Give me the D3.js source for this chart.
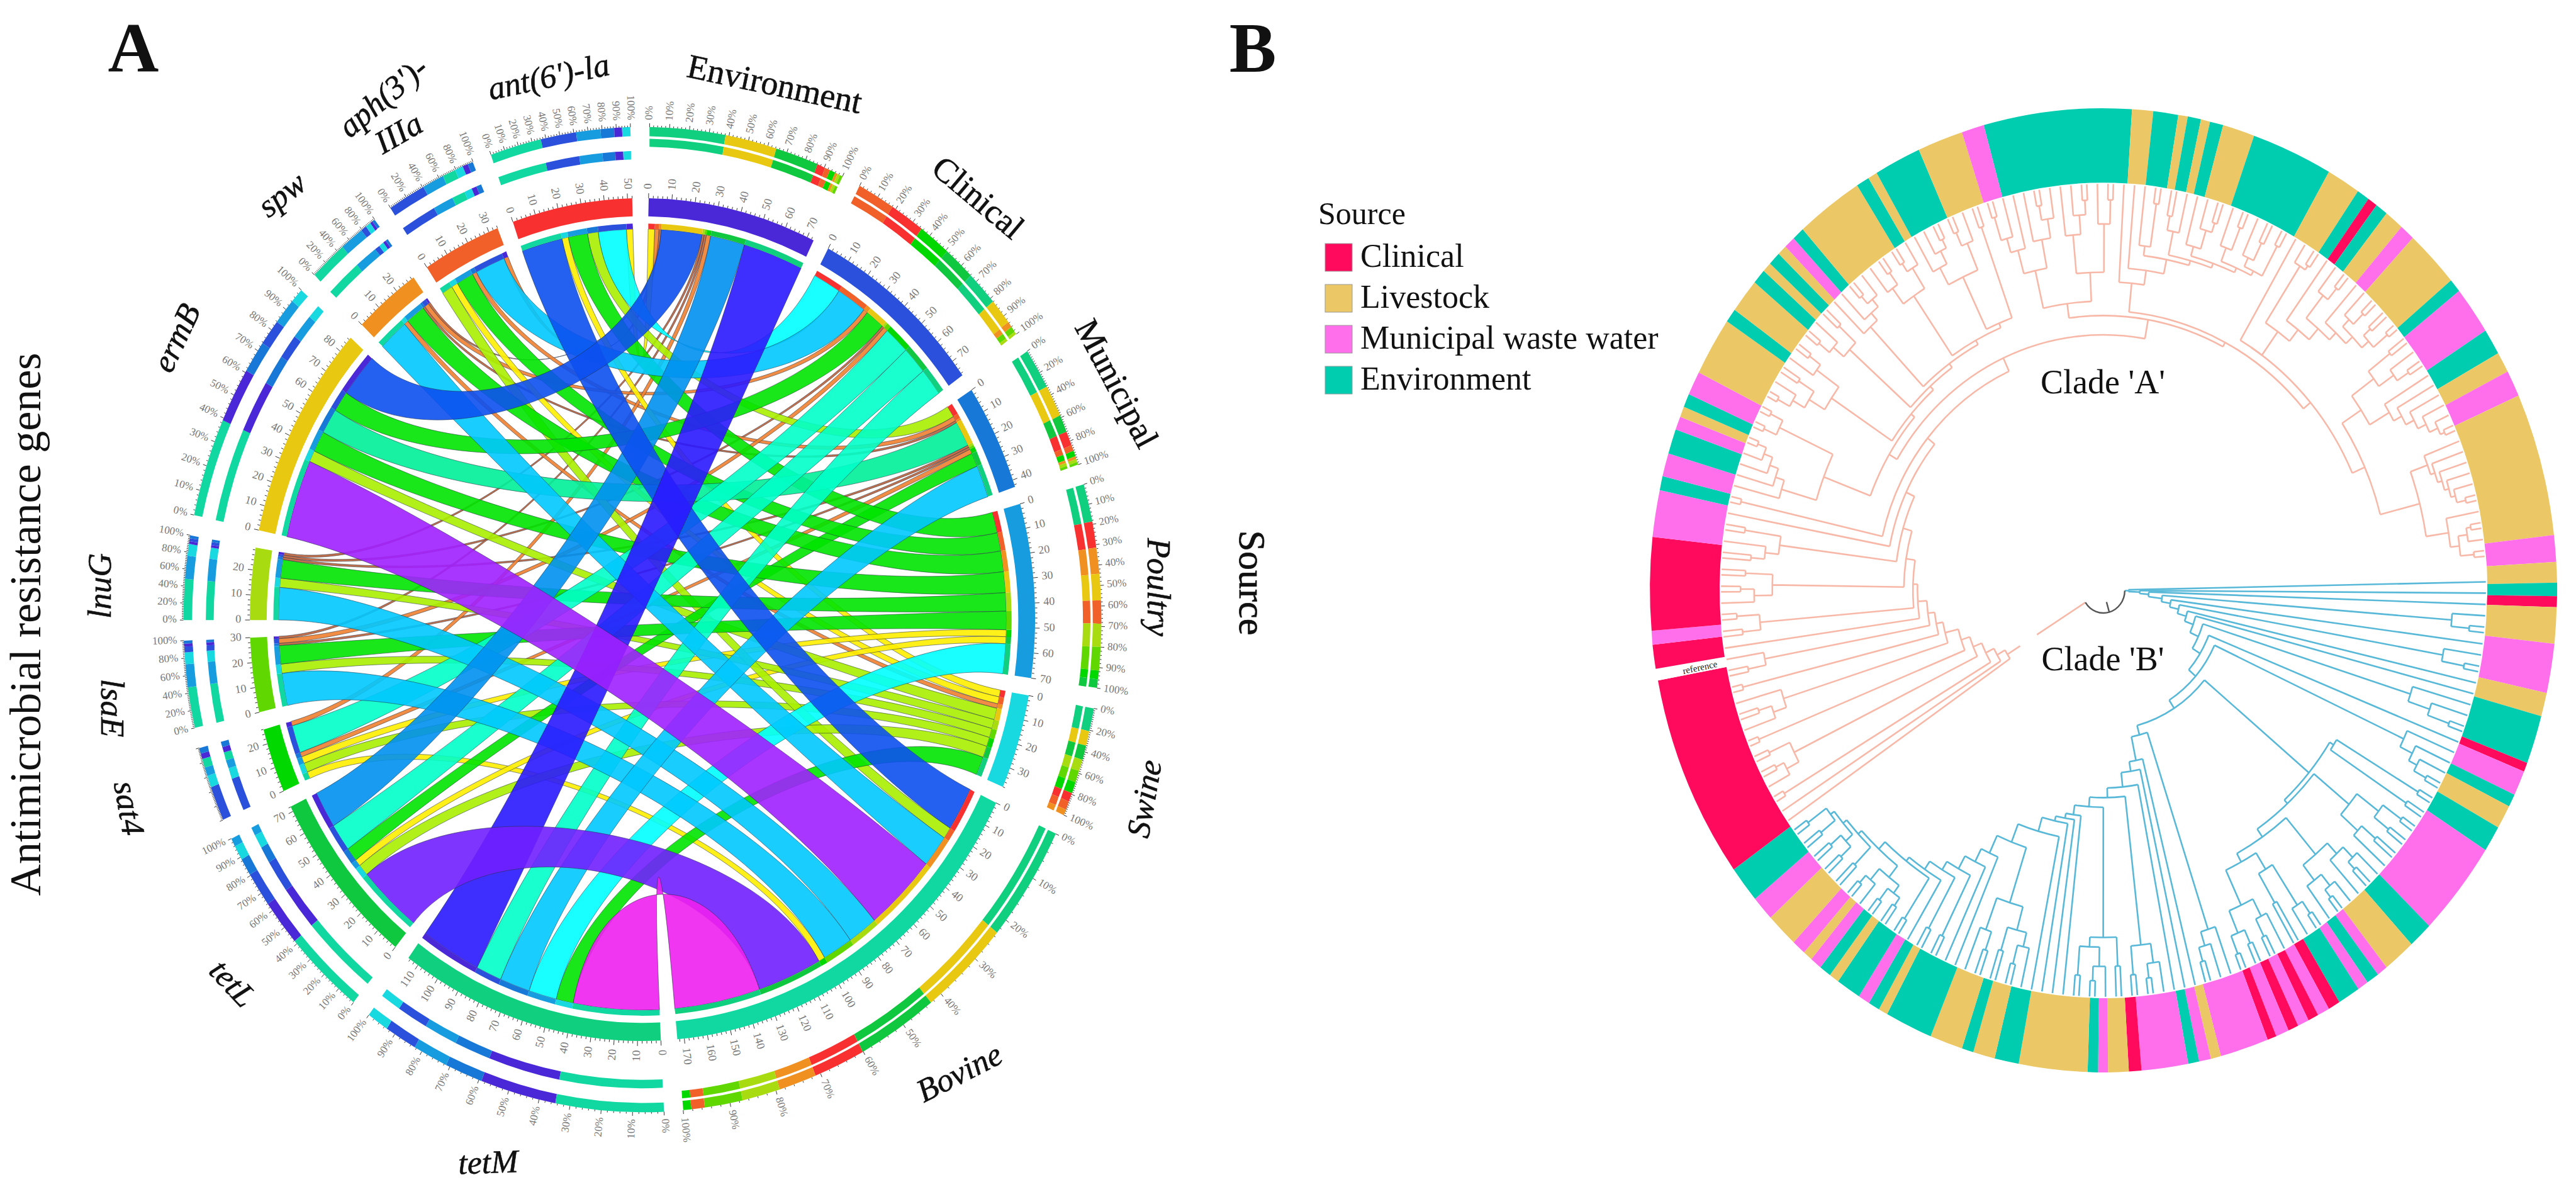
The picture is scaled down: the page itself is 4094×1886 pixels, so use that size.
<!DOCTYPE html>
<html><head><meta charset="utf-8">
<script src="https://cdn.jsdelivr.net/npm/d3@7"></script>
<style>html,body{margin:0;background:#fff}svg{display:block}text{font-family:"Liberation Serif",serif}</style>
</head><body><svg id="c" width="4094" height="1886"></svg>
<script>
// ---------- Panel A data ----------
const sources=["Environment","Clinical","Municipal","Poultry","Swine","Bovine"];
const genes=["ant","aph","spw","ermB","lnuG","lsaE","sat4","tetL","tetM"];
// ring order clockwise from top
const sectorOrder=["Environment","Clinical","Municipal","Poultry","Swine","Bovine","tetM","tetL","sat4","lsaE","lnuG","ermB","spw","aph","ant"];
const sectorColors=["#4a28d8","#2a50dc","#1878d8","#189ce0","#18d8e0","#10d8a0","#10d080","#10c840","#00d800","#60d800","#a8dc10","#e8c810","#f09020","#f06028","#f83030"];
const antRow =[3,13,5,9,3,19];
const aphRow =[2,14,2,8,3,5];
const spwRow =[1,2,1,9,2,14];
const ermBRow=[19,9,11,9,5,34];
const lnuGRow=[1,1,1,8,4,14];
const lsaERow=[1,2,1,8,4,14];
const sat4Row=[2,12,2,3,4,3];
const tetLRow=[16,12,6,3,5,30];
const tetMRow=[28,12,14,13,8,40];
const matrix=[antRow,aphRow,spwRow,ermBRow,lnuGRow,lsaERow,sat4Row,tetLRow,tetMRow];
const valueBreaks=[2,3,4,6,10,12,13,14,16,19,24,30,33,38];
const valueColors=["#c0623a","#f08030","#ffee00","#a8f000","#00e400","#00f098","#00ffc8","#00ffff","#00c8ff","#0090f0","#0c50f0","#2a18ff","#7020ff","#a020ff","#ee20f0"];
// ---------- Panel B data ----------
const sourceNames=["Clinical","Livestock","Municipal waste water","Environment"];
const sourceFill=["#ff0a5c","#ecc766","#ff6fec","#00ccb0"];
const ringStart=-15.3;
const ringEnd=[3.6,6.3,9.5,10.7,12.4,13.6,15.3,19.4,29.8,34.1,35.7,37,38.6,41.1,43,50,51.6,57.4,60.5,63,66.2,83.4,86.6,89.1,90.7,92,96.4,102.3,105.1,111,112.1,115.1,116.6,119.5,122.6,134.1,137.2,141.4,142.8,144.4,145.8,148.7,150.2,151.8,153.1,154.6,155.9,157.6,158.8,165,166.3,167.8,169.2,175.2,176.8,179.4,180.7,182,190.8,193.9,196.7,198.2,202.4,208.5,209.7,211.1,212.6,215.8,217.1,218.6,220.1,221.3,223.1,227.2,230.2,234.6,259.2,260.6,263.5,265.2,276.4,282,283.7,286.5,289.5,291.1,292.4,294,296.9,303.9,305.6,309.7,311.5,312.7,314.3,315.5,316.9,318.5,327.1,328.8,330,336,341.8,344.7];
const ringCats=["E","L","E","L","E","L","E","L","E","L","E","C","E","L","M","L","E","M","E","L","M","L","M","L","E","C","L","M","L","E","C","M","E","L","E","M","E","L","M","E","M","E","C","M","C","M","C","M","C","M","L","M","E","M","C","L","M","E","L","E","L","E","L","E","L","E","M","E","L","E","M","L","M","L","M","E","C","W","C","M","C","M","E","M","E","M","L","E","M","L","E","L","E","L","E","L","M","E","L","E","L","E","L","M"];
// phylogeny: n(radius %, children...), L is a tip
const L={r:84.3};
const n=(r,...c)=>({r,children:c});
const ladder=(rs,items)=>{let cur=items[items.length-1];for(let i=rs.length-1;i>=0;i--)cur=n(rs[i],items[i],cur);return cur;};
const ch=r=>n(r,L,L);
// blue clade
const bA=n(60,ch(81),ch(80));
const bC=n(70,n(76,ch(81),ch(80)),n(75,ch(79),L));
const bD1=n(72,n(75,n(78,L,ch(80)),L),n(76,n(79,L,ch(81)),L));
const bD2=n(64,n(68,n(78,ch(81),L),ch(75)),n(72,n(76,L,ch(80)),n(77,ch(80),ch(81))));
const bR2=n(59,bA,n(60,bC,n(62,bD1,bD2)));
const bR3=ladder([31,36,38,41,43,45,47,48,49,52,56,60,63,66,68,70,71,73,74,75,76],[
 n(74,L,n(77,L,ch(80))),L,L,L,
 n(74,n(78,L,ch(81)),ch(80)),
 n(72,ch(78),n(74,n(78,L,ch(81)),ch(80))),
 L,L,L,L,
 n(68,n(73,n(76,L,ch(80)),ch(78)),n(75,ch(79),L)),
 L,L,ch(80),ch(80),L,ch(81),
 n(76,n(78,ch(80),ch(81)),n(79,L,ch(81))),
 ch(79),n(77,ch(80),ch(80)),ch(80),ch(81)]);
const blue=ladder([5.5,8,10,13,15,17,19,21,23,25,27],[
 L,L,L,n(77,L,ch(81)),L,n(76,L,ch(81)),L,L,n(71,L,n(76,L,ch(81))),L,n(73,L,n(76,L,n(78,L,ch(81)))),
 n(29,bR2,bR3)]);
// salmon clade
const k1=n(66,ladder([74,76,78,80,82],[L,L,L,L,L,L]),n(79,ch(82),ch(82)));
const k2=n(72,n(76,n(79,ch(82),L),ch(80)),n(78,L,ch(81)));
const k3=n(75,n(78,ch(81),L),ch(80));
const k4=n(75,L,n(77,L,n(79,ch(81),L)));
const k5=n(74,n(78,L,ch(81)),n(79,ch(81),L));
const k6=n(72,n(76,L,n(79,L,ch(81))),n(78,ch(81),L));
const t1=n(60,n(68,n(73,n(76,ch(81),L),L),n(74,L,n(78,ch(81),L))),n(66,n(74,L,n(78,L,ch(81))),n(76,L,ch(81))));
const t2=ladder([64,67,70,71,72,73,74],[L,L,n(72,L,ch(81)),n(76,ch(79),L),n(74,L,n(78,L,ch(80))),n(76,L,ch(81)),n(76,L,ch(80)),ch(81)]);
const r1=ladder([60,66,69,72,74,76,78],[L,n(80,L,ch(81)),L,n(78,L,ch(81)),L,n(78,L,ch(81)),ch(80),ch(82)]);
const r2=n(68,n(74,ch(80),n(78,L,ch(81))),ladder([73,75,77,79,81],[L,L,L,L,L,ch(82)]));
const r3=n(72,ladder([76,77,78,79,80],[L,L,L,L,L,ch(82)]),n(77,L,n(79,n(81,ch(82),L),ch(82))));
const right=n(57,t1,n(58,t2,n(60,r1,n(63,r2,r3))));
const top0=n(53,ladder([55,56,57,58,59,60],[k1,k2,k3,k4,k5,k6,ch(80)]),right);
const salmon=ladder([25,27,29,31,33,36,37.5,39,41,42,44,46,48,50],[
 L,L,ch(82),n(76,n(79,L,ch(81)),ch(81)),ch(82),n(74,n(77,L,ch(80)),L),ch(82),n(76,ch(80),L),L,
 n(76,ch(80),ch(81)),n(73,n(77,L,ch(80)),ch(79)),n(72,n(75,ch(78),L),ch(80)),L,ch(82),top0]);
const treeRoot=n(4.7,blue,salmon);
const treeOffset=88;
// ---------- draw ----------
const svg=d3.select("#c");
const rad=d=>d*Math.PI/180;
function serif(x,y,t,size,rot,opt={}){
  svg.append("text").attr("transform",`translate(${x},${y}) rotate(${rot})`).attr("text-anchor","middle").attr("dominant-baseline","middle")
   .attr("font-size",size).attr("font-style",opt.it?"italic":"normal").attr("font-weight",opt.b?"bold":"normal")
   .attr("font-family",opt.sans?"Liberation Sans":"Liberation Serif").attr("fill","#111").attr("stroke",opt.s?"#111":"none").attr("stroke-width",opt.s||0).text(t);
}
// Panel A
const A={cx:1021,cy:984.5,rx:624,ry:669.5};
const gA=svg.append("g").attr("transform",`translate(${A.cx},${A.cy}) scale(${A.rx},${A.ry})`);
const color=d3.scaleThreshold().domain(valueBreaks).range(valueColors);
const rowSum=i=>d3.sum(matrix[i]);
const colSum=j=>d3.sum(matrix,r=>r[j]);
const sectorSize=s=>sources.includes(s)?colSum(sources.indexOf(s)):rowSum(genes.indexOf(s));
const colorOf=s=>sectorColors[sectorOrder.indexOf(s)];
const gap=2.4,startA=0.9;
const total=d3.sum(sectorOrder,sectorSize);
const k=(360-gap*sectorOrder.length)/total;
const sectors={};let cur=startA;
sectorOrder.forEach(s=>{const sz=sectorSize(s);sectors[s]={name:s,size:sz,a0:cur,a1:cur+sz*k,isGene:genes.includes(s)};cur+=sz*k+gap;});
const unit=d3.scaleLinear().domain([0,1]);
// ribbon positions
const ribbons=[];
const srcPos={},genePos={};
sources.forEach((s,j)=>{let p=sectors[s].a0;genes.forEach((g,i)=>{srcPos[g+s]=[p,p+matrix[i][j]*k];p+=matrix[i][j]*k;});});
genes.forEach((g,i)=>{let p=sectors[g].a0;[...sources].reverse().forEach(s=>{const j=sources.indexOf(s);genePos[g+s]=[p,p+matrix[i][j]*k];p+=matrix[i][j]*k;});});
genes.forEach((g,i)=>sources.forEach((s,j)=>ribbons.push({g,s,v:matrix[i][j],ga:genePos[g+s],sa:srcPos[g+s]})));
ribbons.sort((a,b)=>a.v-b.v);
const Rr=0.927;
const pt=(a,r)=>[r*Math.sin(rad(a)),-r*Math.cos(rad(a))];
function edge(p,u,v){
  let d=((v-u)%360+360)%360; if(d>180)d=360-d;
  const far=.72-.32*d/180;
  const rc=d<45?.5+(.72-.32*.25-.5)*d/45:far;
  const c1=pt(u,rc),c2=pt(v,rc),e=pt(v,Rr);
  p.bezierCurveTo(c1[0],c1[1],c2[0],c2[1],e[0],e[1]);
}
function ribbonPath(d){
  const p=d3.path();const [a0,a1]=d.sa,[b0,b1]=d.ga;
  p.moveTo(...pt(a0,Rr));p.arc(0,0,Rr,rad(a0-90),rad(a1-90));
  edge(p,a1,b0);
  p.arc(0,0,Rr,rad(b0-90),rad(b1-90));
  edge(p,b1,a0);p.closePath();
  return p.toString();
}
gA.selectAll("path.rib").data(ribbons).join("path").attr("class","rib").attr("d",ribbonPath)
 .attr("fill",d=>color(d.v)).attr("fill-opacity",.9).attr("stroke","#203040").attr("stroke-opacity",.55).attr("stroke-width",1).attr("vector-effect","non-scaling-stroke");
const arc=(r0,r1,a0,a1)=>d3.arc()({innerRadius:r0,outerRadius:r1,startAngle:rad(a0),endAngle:rad(a1)});
// inner segment ring
ribbons.forEach(d=>{[d.sa,d.ga].forEach((e,idx)=>{gA.append("path").attr("d",arc(Rr,.94,e[0],e[1])).attr("fill",idx===0?colorOf(d.g):colorOf(d.s));});});
function placeLabel(a,r,t,size){
  const [x,y]=pt(a,r);const px=A.cx+x*A.rx,py=A.cy+y*A.ry;
  const right=a%360<180;
  svg.append("text").attr("transform",`translate(${px},${py}) rotate(${right?a-90:a+90})`).attr("text-anchor",right?"start":"end")
   .attr("dominant-baseline","middle").attr("font-size",size).attr("font-family","Liberation Sans").attr("fill","#777").text(t);
}
function tick(a,r0,r1,w){
  const p0=pt(a,r0),p1=pt(a,r1);
  gA.append("line").attr("x1",p0[0]).attr("y1",p0[1]).attr("x2",p1[0]).attr("y2",p1[1]).attr("stroke","#333").attr("stroke-width",w).attr("vector-effect","non-scaling-stroke");
}
const noPctLabels=["sat4"];
Object.values(sectors).forEach(sc=>{
  gA.append("path").attr("d",arc(.957,1,sc.a0,sc.a1)).attr("fill",colorOf(sc.name));
  d3.range(0,sc.size+.01,2).forEach(v=>{tick(sc.a0+v*k,1,v%10===0?1.012:1.006,1);if(v%10===0)placeLabel(sc.a0+v*k,1.022,String(v),18);});
  // percentage rings
  const idx=sources.includes(sc.name)?sources.indexOf(sc.name):genes.indexOf(sc.name);
  const parts=sc.isGene?sources.map((s,j)=>({o:s,v:matrix[idx][j]})):genes.map((g,i)=>({o:g,v:matrix[i][idx]}));
  parts.sort((a,b)=>d3.descending(a.v,b.v));
  const span=sc.a1-sc.a0;const pctScale=unit.copy().range([sc.a0,sc.a1]);
  let acc=0;const tot=sc.size;
  const ringB=sc.isGene?[1.092,1.112]:[1.122,1.141];
  parts.forEach(q=>{
    const a0=pctScale(acc/tot),a1=pctScale((acc+q.v)/tot);
    gA.append("path").attr("d",arc(1.147,1.169,a0,a1)).attr("fill",colorOf(q.o));
    gA.append("path").attr("d",arc(ringB[0],ringB[1],a0,a1)).attr("fill",colorOf(q.o));
    acc+=q.v;
  });
  const step=span<16?20:10;
  d3.range(0,101,2).forEach(v=>tick(pctScale(v/100),1.169,v%step===0?1.178:1.173,1));
  if(!noPctLabels.includes(sc.name))d3.range(0,101,step).forEach(v=>placeLabel(pctScale(v/100),1.186,v+"%",17));
});
[["Environment",1230,139,12],["Clinical",1551,318,40],["Municipal",1770,612,62]].forEach(d=>serif(d[1],d[2],d[0],54,d[3],{s:.6}));
[["Poultry",1836,933,90],["Swine",1824,1270,-80],["Bovine",1527,1709,-27],["tetM",776,1852,-2],["tetL",366,1566,47],["sat4",200,1285,80],["lsaE",173,1125,90],["lnuG",164,931,-90],["ermB",285,539,-65],["spw",451,313,-38],["aph(3')-",612,158,-40],["IIIa",636,216,-30],["ant(6')-la",873,127,-12]].forEach(d=>serif(d[1],d[2],d[0],52,d[3],{it:true,s:.6}));
serif(48,992,"Antimicrobial resistance genes",70,-90);
serif(212,88,"A",112,0,{b:true});
// Panel B
serif(1991,88,"B",112,0,{b:true});
serif(1984,926,"Source",60,90,{sans:true,s:.8});
const B={cx:3343,cy:938,rx:721,ry:766};
const gB=svg.append("g").attr("transform",`translate(${B.cx},${B.cy}) scale(${B.rx},${B.ry})`);
const catFill={C:sourceFill[0],L:sourceFill[1],M:sourceFill[2],E:sourceFill[3],W:"#fff"};
let prev=ringStart;
ringEnd.forEach((e,i)=>{gB.append("path").attr("d",arc(.846,1,prev,e)).attr("fill",catFill[ringCats[i]]);prev=e;});
const root=d3.hierarchy(treeRoot,d=>d.children);
d3.cluster().size([358,1])(root);
root.each(d=>{d.ang=d.x+treeOffset;d.rad=d.data.r/100;});
const blueNode=root.children[0];
const blueSet=new Set(blueNode.descendants());
const link=d=>{
  const p=d3.path();
  if(d.parent){
    if(d.parent===root&&!blueSet.has(d)){
      p.moveTo(...pt(d.ang,d.parent.rad));p.lineTo(...pt(d.ang,.173));
      p.moveTo(...pt(d.ang,.217));p.lineTo(...pt(d.ang,d.rad));
    } else {p.moveTo(...pt(d.ang,d.parent.rad));p.lineTo(...pt(d.ang,d.rad));}
  }
  if(d.children&&d!==root){
    const a=d.children[0].ang,b=d.children[d.children.length-1].ang;
    p.moveTo(...pt(a,d.rad));p.arc(0,0,d.rad,rad(a-90),rad(b-90));
  }
  return p.toString();
};
gB.selectAll("path.br").data(root.descendants().filter(d=>d!==root)).join("path").attr("class","br").attr("d",link)
 .attr("fill","none").attr("stroke",d=>blueSet.has(d)?"#58b8d8":"#f8b8a8").attr("stroke-width",2.6).attr("vector-effect","non-scaling-stroke");
{const p=d3.path();const a=root.children[0].ang,b=root.children[1].ang;p.moveTo(...pt(a,root.rad));p.arc(0,0,root.rad,rad(a-90),rad(b-90));p.moveTo(...pt(root.ang,root.rad));p.lineTo(...pt(root.ang,.025));
 gB.append("path").attr("d",p.toString()).attr("fill","none").attr("stroke","#555").attr("stroke-width",2.4).attr("vector-effect","non-scaling-stroke");}
serif(3342,613,"Clade 'A'",54,0);
serif(3342,1053,"Clade 'B'",54,0);
svg.append("text").attr("transform","translate(2702,1062) rotate(-12)").attr("text-anchor","middle").attr("dominant-baseline","middle").attr("font-size",15).attr("font-family","Liberation Sans").attr("fill","#222").text("reference");
// legend
svg.append("text").attr("x",2095).attr("y",356).attr("font-size",50).attr("fill","#111").text("Source");
const legY=d3.scalePoint().domain(sourceNames).range([387,582]);
sourceNames.forEach((s,i)=>{
  svg.append("rect").attr("x",2106).attr("y",legY(s)).attr("width",43).attr("height",44).attr("fill",sourceFill[i]).attr("stroke","#999").attr("stroke-width",1);
  svg.append("text").attr("x",2162).attr("y",legY(s)+37).attr("font-size",52).attr("fill","#111").text(s);
});
</script></body></html>
